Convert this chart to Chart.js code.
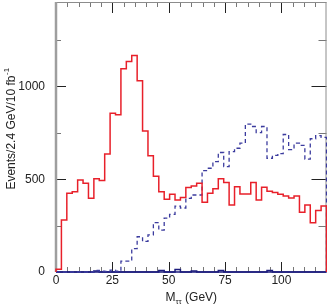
<!DOCTYPE html>
<html>
<head>
<meta charset="utf-8">
<script src="https://cdn.jsdelivr.net/npm/chart.js@4.4.1/dist/chart.umd.min.js"></script>
<style>
  html, body { margin: 0; padding: 0; background: #fff; }
  #wrap { width: 327px; height: 307px; }
</style>
</head>
<body>
<div id="wrap"><canvas id="c" width="327" height="307"></canvas></div>
<script>
// 50 bins of 2.4 GeV, 0 - 120 GeV
const binWidth = 2.4;
const xMin = 0, xMax = 120;
const yMin = 0, yMax = 1455;
const xTicks = [0, 25, 50, 75, 100];
const yTicks = [0, 500, 1000];
const xTitle = ['M', 'ττ', ' (GeV)'];
const yTitle = ['Events/2.4 GeV/10 fb', '-1'];

// solid red histogram
const redHist = [
  15, 280, 424, 433, 496, 478, 397, 502, 493, 636,
  856, 848, 1095, 1134, 1167, 1030, 760, 627, 516, 433,
  392, 419, 388, 401, 455, 464, 478, 376, 424, 448,
  503, 482, 361, 460, 421, 421, 482, 388, 457, 435,
  428, 419, 410, 399, 410, 322, 361, 266, 331, 356
];

// dashed blue histogram
const blueHist = [
  0, 0, 0, 0, 0, 0, 0, 8, 4, 3,
  10, 5, 59, 59, 126, 190, 165, 200, 266, 226,
  290, 310, 355, 345, 397, 415, 415, 546, 559, 595,
  644, 568, 649, 667, 694, 797, 784, 751, 784, 613,
  628, 638, 741, 660, 694, 682, 608, 718, 735, 725
];

// solid navy histogram sitting on the axis
const navyHist = [
  0, 0, 0, 0, 0, 0, 0, 6, 0, 0,
  0, 0, 0, 0, 0, 0, 0, 0, 0, 8,
  0, 0, 14, 0, 0, 6, 0, 0, 0, 0,
  8, 0, 0, 0, 0, 0, 0, 0, 0, 8,
  0, 0, 0, 0, 0, 0, 0, 0, 0, 0
];

const FONT = "'Liberation Sans', Arial, Helvetica, sans-serif";

// points at the bin low edges, closed at both ends
function histPoints(values) {
  const pts = [{ x: xMin, y: 0 }];
  values.forEach((v, i) => pts.push({ x: xMin + i * binWidth, y: v }));
  pts.push({ x: xMax, y: 0 });
  return pts;
}

function histDataset(values, color, width, dash) {
  return {
    data: histPoints(values),
    borderColor: color,
    borderWidth: width,
    borderDash: dash || [],
    stepped: 'before',
    pointRadius: 0,
    fill: false,
    clip: 3
  };
}

// frame with inward ticks, like the physics plot
const framePlugin = {
  id: 'frame',
  beforeDatasetsDraw(chart) {
    const { ctx, chartArea: a, scales: { x, y } } = chart;
    ctx.save();

    // x ticks every 5 GeV, top and bottom
    for (let v = 5; v < xMax; v += 5) {
      const px = Math.round(x.getPixelForValue(v)) + 0.5;
      const major = v % 25 === 0;
      ctx.strokeStyle = major ? '#222' : '#777';
      ctx.lineWidth = 1;
      ctx.beginPath();
      ctx.moveTo(px, a.top);
      ctx.lineTo(px, a.top + (major ? 11 : 5));
      ctx.moveTo(px, a.bottom);
      ctx.lineTo(px, a.bottom - (major ? 10 : 5));
      ctx.stroke();
    }

    // y ticks every 250, left and right
    for (let v = 250; v < yMax; v += 250) {
      const py = Math.round(y.getPixelForValue(v)) + 0.5;
      const major = v % 500 === 0;
      ctx.strokeStyle = major ? '#222' : '#777';
      ctx.beginPath();
      ctx.moveTo(a.left, py);
      ctx.lineTo(a.left + (major ? 10 : 5), py);
      ctx.moveTo(a.right, py);
      ctx.lineTo(a.right - (major ? 15 : 8), py);
      ctx.stroke();
    }

    // borders
    ctx.strokeStyle = '#8c8c8c';
    ctx.lineWidth = 1;
    ctx.beginPath();
    ctx.moveTo(a.left, a.top + 0.5);
    ctx.lineTo(a.right, a.top + 0.5);
    ctx.moveTo(a.right - 0.5, a.top);
    ctx.lineTo(a.right - 0.5, a.bottom);
    ctx.stroke();

    ctx.strokeStyle = '#9e9e9e';
    ctx.lineWidth = 2.5;
    ctx.beginPath();
    ctx.moveTo(a.left, a.top);
    ctx.lineTo(a.left, a.bottom);
    ctx.stroke();

    ctx.strokeStyle = '#1c1c7c';
    ctx.lineWidth = 1.5;
    ctx.beginPath();
    ctx.moveTo(a.left, a.bottom);
    ctx.lineTo(a.right, a.bottom);
    ctx.stroke();

    ctx.restore();
  },
  afterDraw(chart) {
    const { ctx, chartArea: a } = chart;
    ctx.save();
    ctx.fillStyle = '#222';
    ctx.textBaseline = 'alphabetic';
    ctx.textAlign = 'left';

    // x title with subscript
    const big = '12px ' + FONT, small = '8px ' + FONT;
    ctx.font = big;
    const w0 = ctx.measureText(xTitle[0]).width;
    const w2 = ctx.measureText(xTitle[2]).width;
    ctx.font = small;
    const w1 = ctx.measureText(xTitle[1]).width;
    let tx = (a.left + a.right) / 2 - (w0 + w1 + w2) / 2;
    const ty = 300.5;
    ctx.font = big;
    ctx.fillText(xTitle[0], tx, ty);
    ctx.font = small;
    ctx.fillText(xTitle[1], tx + w0, ty + 3);
    ctx.font = big;
    ctx.fillText(xTitle[2], tx + w0 + w1, ty);

    // y title, rotated, with superscript
    ctx.font = big;
    const v0 = ctx.measureText(yTitle[0]).width;
    ctx.font = small;
    const v1 = ctx.measureText(yTitle[1]).width;
    ctx.translate(14.5, 129);
    ctx.rotate(-Math.PI / 2);
    const sx = -(v0 + v1) / 2;
    ctx.font = big;
    ctx.fillText(yTitle[0], sx, 0);
    ctx.font = small;
    ctx.fillText(yTitle[1], sx + v0 + 0.5, -6);
    ctx.restore();
  }
};

new Chart(document.getElementById('c'), {
  type: 'line',
  data: {
    datasets: [
      histDataset(redHist, '#e8202a', 1.5),
      histDataset(blueHist, '#3b3b9e', 1.3, [4, 3]),
      histDataset(navyHist, '#1c1c7c', 1.5)
    ]
  },
  options: {
    responsive: false,
    animation: false,
    events: [],
    layout: { padding: { top: 2, right: 0.5, left: 0, bottom: 0 } },
    plugins: { legend: { display: false }, tooltip: { enabled: false } },
    scales: {
      x: {
        type: 'linear',
        min: xMin,
        max: xMax,
        afterBuildTicks: s => { s.ticks = xTicks.map(v => ({ value: v })); },
        afterFit: s => { s.height = 35; s.paddingLeft = 0; s.paddingRight = 0; },
        grid: { display: false, drawTicks: false },
        border: { display: false },
        ticks: { padding: 1, color: '#222', font: { family: FONT, size: 12 }, callback: v => String(v) }
      },
      y: {
        type: 'linear',
        min: yMin,
        max: yMax,
        afterBuildTicks: s => { s.ticks = yTicks.map(v => ({ value: v })); },
        afterFit: s => { s.width = 56; s.paddingTop = 0; s.paddingBottom = 0; },
        grid: { display: false, drawTicks: false },
        border: { display: false },
        ticks: { padding: 11, color: '#222', font: { family: FONT, size: 12 }, callback: v => String(v) }
      }
    }
  },
  plugins: [framePlugin]
});
</script>
</body>
</html>
